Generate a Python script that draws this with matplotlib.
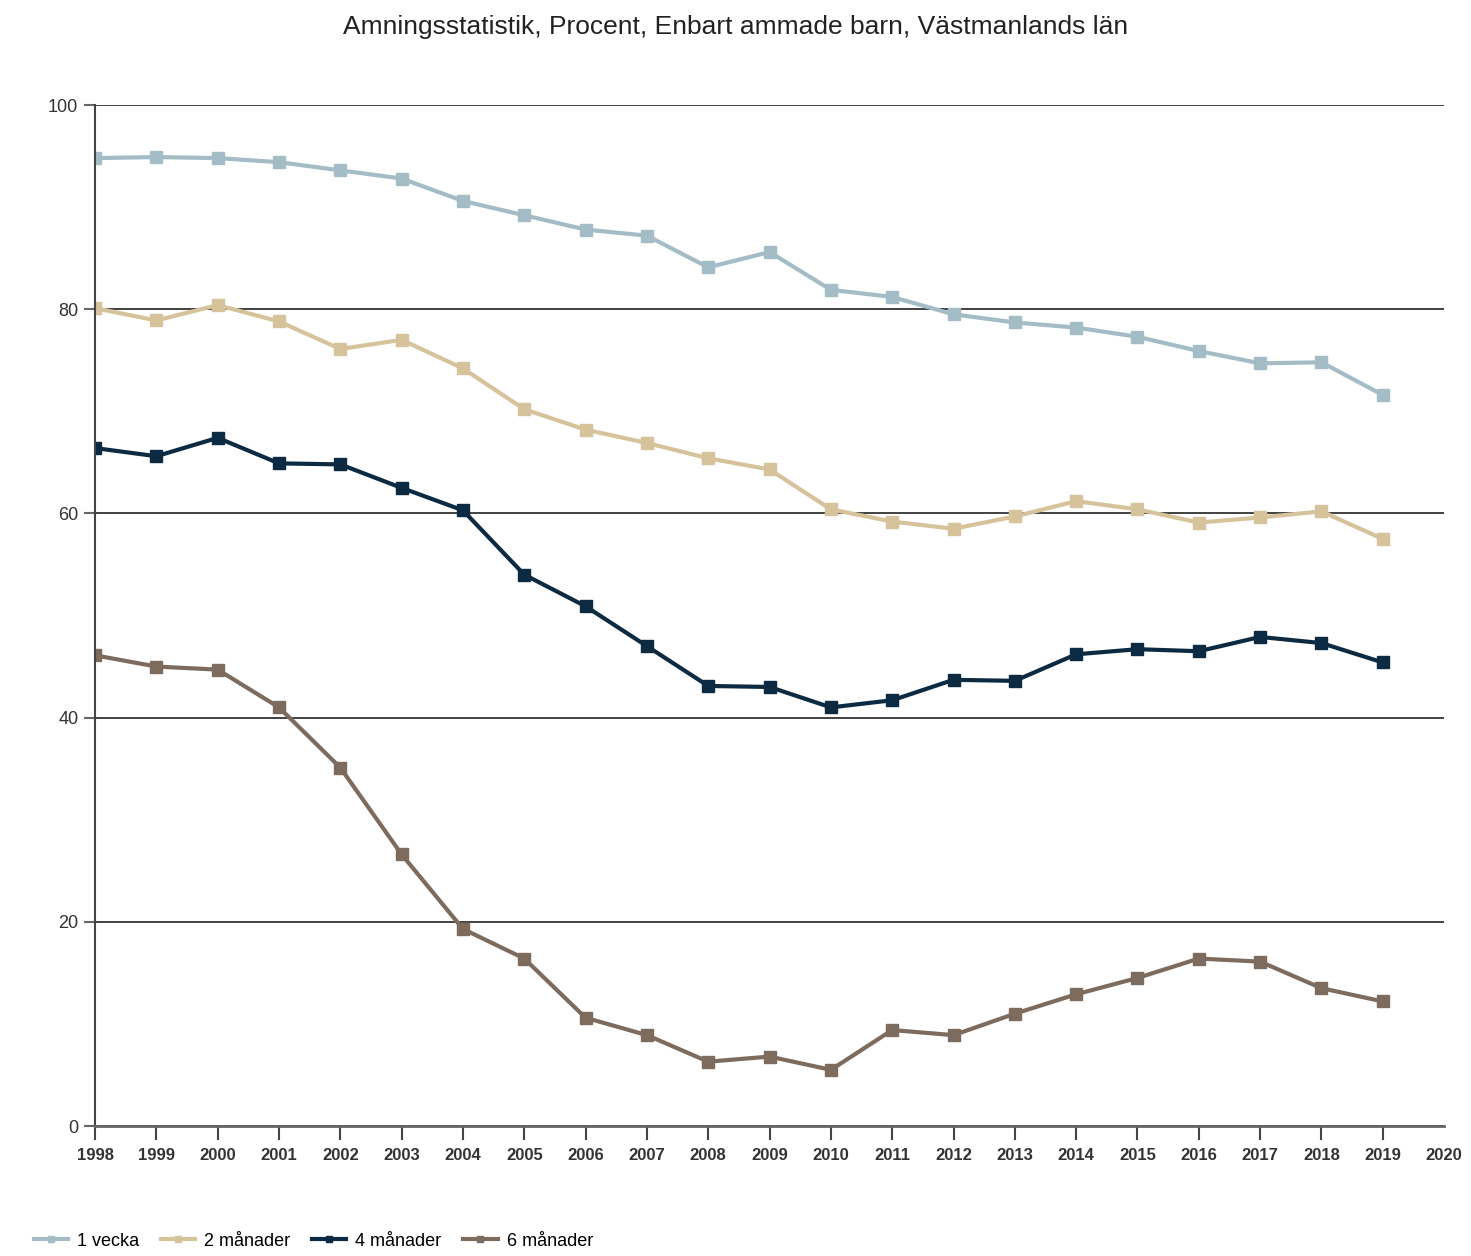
import matplotlib
matplotlib.use("Agg")
import matplotlib.pyplot as plt

years = list(range(1998, 2020))

vecka_1 = [94.8, 94.9, 94.8, 94.4, 93.6, 92.8, 90.6, 89.2, 87.8, 87.2, 84.1,
           85.6, 81.9, 81.2, 79.5, 78.7, 78.2, 77.3, 75.9, 74.7, 74.8, 71.6]
manader_2 = [80.1, 78.9, 80.4, 78.8, 76.1, 77.0, 74.2, 70.2, 68.2, 66.9, 65.4,
             64.3, 60.4, 59.2, 58.5, 59.7, 61.2, 60.4, 59.1, 59.6, 60.2, 57.5]
manader_4 = [66.4, 65.6, 67.4, 64.9, 64.8, 62.5, 60.3, 54.0, 50.9, 47.0, 43.1,
             43.0, 41.0, 41.7, 43.7, 43.6, 46.2, 46.7, 46.5, 47.9, 47.3, 45.4]
manader_6 = [46.1, 45.0, 44.7, 41.0, 35.1, 26.6, 19.3, 16.4, 10.6, 8.9, 6.3,
             6.8, 5.5, 9.4, 8.9, 11.0, 12.9, 14.5, 16.4, 16.1, 13.5, 12.2]

series = [
    ("1 vecka", vecka_1, "#a3bcc6"),
    ("2 månader", manader_2, "#d6c39c"),
    ("4 månader", manader_4, "#0c2a42"),
    ("6 månader", manader_6, "#7d6b5d"),
]

plt.rcParams["font.family"] = ["Liberation Sans", "DejaVu Sans"]

fig = plt.figure(figsize=(14.71, 12.56), dpi=100)
ax = fig.add_axes([0.0646, 0.1035, 0.9171, 0.8129])

for label, values, color in series:
    ax.plot(years, values, color=color, lw=3, marker="s", markersize=8,
            label=label)

ax.set_xlim(1998, 2020)
ax.set_ylim(0, 100)
ax.set_yticks([0, 20, 40, 60, 80, 100])
ax.set_xticks(range(1998, 2021))
ax.grid(axis="y", color="#333333", lw=1.3)
ax.set_axisbelow(True)
for side in ["top", "right"]:
    ax.spines[side].set_visible(False)
ax.spines["left"].set_color("#444444")
ax.spines["left"].set_linewidth(1.5)
ax.spines["bottom"].set_color("#666666")
ax.spines["bottom"].set_linewidth(2)
ax.tick_params(axis="x", length=10, width=1.5, color="#444444",
               labelsize=12, pad=6, labelcolor="#333333")
ax.tick_params(axis="y", length=8, width=1.5, color="#666666",
               labelsize=13, pad=4, labelcolor="#333333")
for lbl in ax.get_xticklabels():
    lbl.set_fontweight("bold")
# no tick mark at 2020
ax.xaxis.get_major_ticks()[-1].tick1line.set_visible(False)

fig.suptitle("Amningsstatistik, Procent, Enbart ammade barn, Västmanlands län",
             y=0.988, fontsize=19, color="#222222")

leg = fig.legend(loc="lower left", bbox_to_anchor=(0.012, -0.008), ncol=4,
                 frameon=False, fontsize=13, handlelength=1.9,
                 handletextpad=0.5, columnspacing=1.2, markerscale=0.6)
for h in leg.legend_handles:
    h.set_linewidth(3)

fig.savefig("out.png", dpi=100)
